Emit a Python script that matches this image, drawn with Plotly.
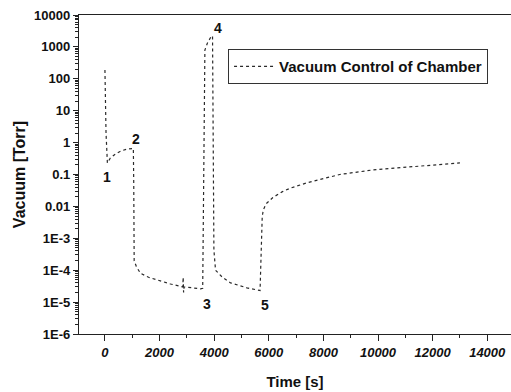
import math
import plotly.graph_objects as go

# ---- data ----
time_s = [0, 40, 90, 200, 400, 600, 800, 1040, 1055, 1070, 1150, 1300, 1600, 1900, 2400,
          2850, 2865, 2880, 2900, 3200, 3500, 3580, 3600, 3620, 3640, 3660, 3750, 3900,
          3940, 3955, 3965, 3975, 3990, 4050, 4300, 4600, 5200, 5680, 5700, 5730, 5760,
          5800, 5900, 6150, 6500, 6780, 7400, 8600, 9830, 11050, 12940, 13000]
vacuum_torr = [190, 2, 0.23, 0.33, 0.45, 0.55, 0.62, 0.66, 0.05, 2e-4, 1.3e-4, 8e-5, 6e-5,
               4.9e-5, 3.7e-5, 3.0e-5, 6e-5, 2e-5, 3.0e-5, 2.8e-5, 2.6e-5, 2.7e-5, 1e-3,
               1, 100, 800, 1300, 2200, 2200, 100, 1, 0.01, 4.3e-4, 1e-4, 6e-5, 4e-5, 2.8e-5,
               2.3e-5, 1.7e-4, 8.9e-4, 4.8e-3, 7.8e-3, 1.2e-2, 1.9e-2, 0.029, 0.037, 0.055,
               0.1, 0.14, 0.17, 0.22, 0.23]

point_labels = ["1", "2", "3", "4", "5"]
label_time = [80, 1140, 3740, 4140, 5860]
label_vac = [0.085, 1.3, 9.0e-6, 4000, 8.0e-6]

y_tick_vals = [1e4, 1e3, 1e2, 1e1, 1, 0.1, 0.01, 1e-3, 1e-4, 1e-5, 1e-6]
y_tick_text = ["10000", "1000", "100", "10", "1", "0.1", "0.01", "1E-3", "1E-4", "1E-5", "1E-6"]
y_minor_vals = [m * 10 ** e for e in range(-6, 4) for m in range(2, 10)]
x_tick_vals = [0, 2000, 4000, 6000, 8000, 10000, 12000, 14000]
x_tick_text = ["0", "2000", "4000", "6000", "8000", "10000", "12000", "14000"]

series_name = "Vacuum Control of Chamber"

FONT = "Liberation Sans, Arial, sans-serif"

fig = go.Figure()
fig.add_trace(go.Scatter(
    x=time_s, y=vacuum_torr, mode="lines", name=series_name,
    line=dict(color="#2a2a2a", width=1.2, dash="dot"),
))
# empty helper trace so the minor-tick overlay axis is drawn
fig.add_trace(go.Scatter(x=[None], y=[None], yaxis="y2", showlegend=False, hoverinfo="skip"))

for lab, tx, vy in zip(point_labels, label_time, label_vac):
    fig.add_annotation(x=tx, y=math.log10(vy), yref="y", xref="x", text=lab, showarrow=False,
                       font=dict(family=FONT, size=14, color="#111", weight="bold"))

fig.update_layout(
    width=511, height=392,
    margin=dict(l=79, r=0, t=15, b=58),
    paper_bgcolor="white", plot_bgcolor="white",
    font=dict(family=FONT, color="#111"),
    showlegend=True,
    legend=dict(x=0.345, y=0.893, xanchor="left", yanchor="top",
                bgcolor="white", bordercolor="#333", borderwidth=1,
                font=dict(family=FONT, size=15, color="#111", weight="bold"),
                itemwidth=40, tracegroupgap=0),
    xaxis=dict(
        range=[-950, 14870], showgrid=False, zeroline=False, automargin=False,
        showline=True, linecolor="#222", linewidth=1.2, mirror=True,
        ticks="outside", ticklen=6, tickwidth=1.2, tickcolor="#222",
        tickvals=x_tick_vals, ticktext=x_tick_text,
        tickfont=dict(family=FONT, size=13, color="#111", weight="bold", style="italic"),
        minor=dict(dtick=1000, ticks="outside", ticklen=3, tickcolor="#222", showgrid=False),
        title=dict(text="Time [s]", standoff=17,
                   font=dict(family=FONT, size=15, color="#111", weight="bold")),
    ),
    yaxis=dict(
        type="log", range=[-6, 4], showgrid=False, zeroline=False, automargin=False,
        showline=True, linecolor="#222", linewidth=1.3, mirror=True,
        ticks="outside", ticklen=5, tickwidth=1.2, tickcolor="#222",
        tickvals=y_tick_vals, ticktext=y_tick_text,
        tickfont=dict(family=FONT, size=13, color="#111", weight="bold"),
        title=dict(text="Vacuum [Torr]", standoff=4,
                   font=dict(family=FONT, size=16, color="#111", weight="bold")),
    ),
    yaxis2=dict(
        type="log", range=[-6, 4], overlaying="y", side="left", automargin=False,
        showgrid=False, zeroline=False, showline=False, showticklabels=False,
        ticks="outside", ticklen=3, tickwidth=1, tickcolor="#222",
        tickmode="array", tickvals=y_minor_vals,
    ),
)

# remove the page's default 8px body margin so the figure fills the window exactly
fig.write_html("out.html", config={"displayModeBar": False},
               post_script="document.body.style.margin='0';")
